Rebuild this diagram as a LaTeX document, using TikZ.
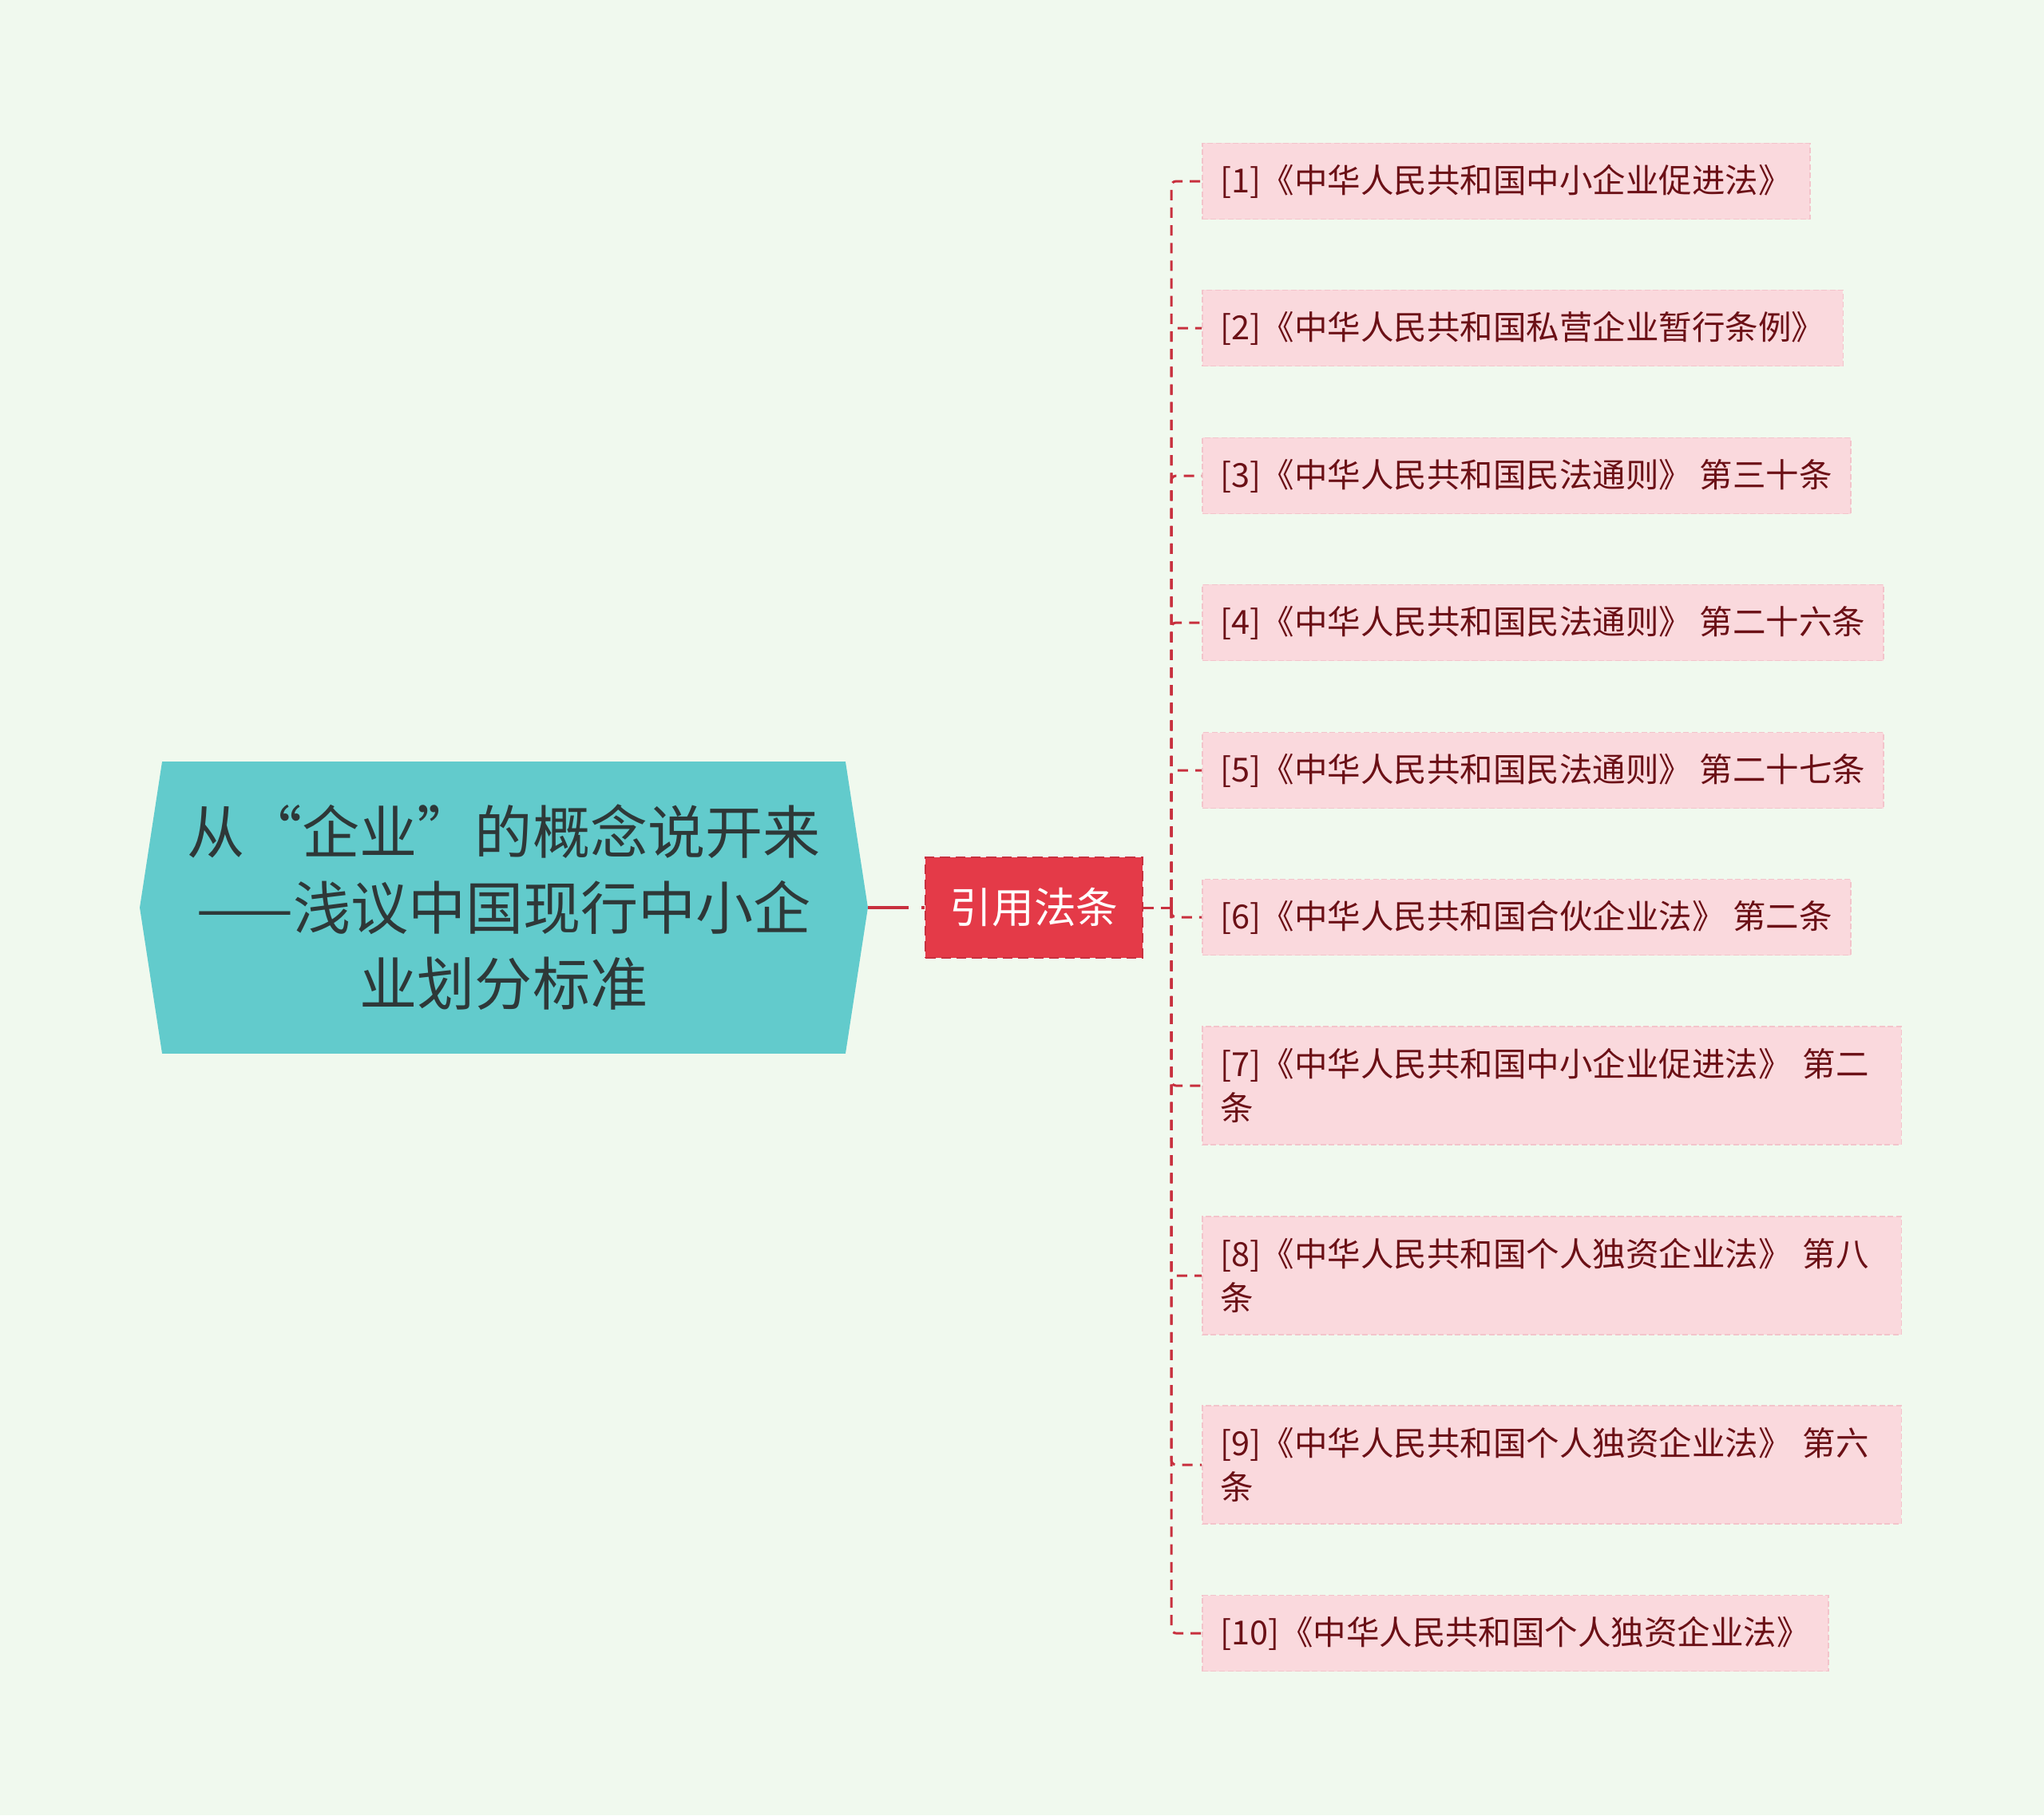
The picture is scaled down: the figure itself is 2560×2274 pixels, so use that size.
\documentclass[tikz,border=0pt]{standalone}
\usepackage{fontspec}
\setmainfont{Noto Sans CJK SC}
\usetikzlibrary{backgrounds}

\definecolor{bgmint}{HTML}{F0F9EE}
\definecolor{rootteal}{HTML}{62CBCC}
\definecolor{rootgray}{HTML}{2E3838}
\definecolor{lawred}{HTML}{E43A48}
\definecolor{lawedge}{HTML}{C8303E}
\definecolor{leafpink}{HTML}{FAD9DD}
\definecolor{leafedge}{HTML}{F3C4CB}
\definecolor{leaftext}{HTML}{6B1016}

\begin{document}
\begin{tikzpicture}[x=0.01cm, y=-0.01cm,
    rootnode/.style={minimum width=9.1cm, minimum height=3.64cm, align=center,
      text=rootgray, font=\fontsize{20.5pt}{27pt}\selectfont},
    lawnode/.style={fill=lawred, draw=lawedge, dash pattern=on 3.5pt off 2pt,
      line width=0.6pt, minimum width=2.71cm, minimum height=1.26cm,
      text=white, font=\fontsize{15pt}{18pt}\selectfont},
    leaf/.style={anchor=west, fill=leafpink, draw=leafedge, dash pattern=on 2pt off 1pt,
      line width=0.5pt, inner xsep=0.23cm, minimum height=0.95cm, align=left,
      text=leaftext, font=\fontsize{11.8pt}{15.4pt}\selectfont},
    twoline/.style={leaf, minimum height=1.48cm, text width=8.29cm},
    link/.style={draw=lawedge, line width=0.85pt, dash pattern=on 3.7pt off 2.6pt}]

  \node[rootnode] (root) at (631,1137) {从“企业”的概念说开来\\——浅议中国现行中小企\\业划分标准};
  \node[lawnode] (law) at (1295,1137) {引用法条};

  \node[leaf] (l1) at (1505,227) {[1]《中华人民共和国中小企业促进法》};
  \node[leaf] (l2) at (1505,411) {[2]《中华人民共和国私营企业暂行条例》};
  \node[leaf] (l3) at (1505,596) {[3]《中华人民共和国民法通则》 第三十条};
  \node[leaf] (l4) at (1505,780) {[4]《中华人民共和国民法通则》 第二十六条};
  \node[leaf] (l5) at (1505,965) {[5]《中华人民共和国民法通则》 第二十七条};
  \node[leaf] (l6) at (1505,1149) {[6]《中华人民共和国合伙企业法》 第二条};
  \node[twoline] (l7) at (1505,1360) {[7]《中华人民共和国中小企业促进法》 第二\\条};
  \node[twoline] (l8) at (1505,1598) {[8]《中华人民共和国个人独资企业法》 第八\\条};
  \node[twoline] (l9) at (1505,1835) {[9]《中华人民共和国个人独资企业法》 第六\\条};
  \node[leaf] (l10) at (1505,2046) {[10]《中华人民共和国个人独资企业法》};

  \coordinate (fork) at (1467,1137);
  \draw[link, line width=1.3pt, dash pattern=on 14.5pt off 4.5pt on 2pt off 1pt] (root.east) -- (law.west);
  \draw[link] (law.east) -- (fork);
  \foreach \i in {1,...,10}
    \draw[link, rounded corners=0.06cm] (fork) |- (l\i.west);

  \begin{scope}[on background layer]
    \fill[bgmint] (0,0) rectangle (2560,2274);
    \fill[rootteal] (root.west) -- ([xshift=0.28cm]root.north west)
      -- ([xshift=-0.28cm]root.north east) -- (root.east)
      -- ([xshift=-0.28cm]root.south east) -- ([xshift=0.28cm]root.south west) -- cycle;
  \end{scope}
\end{tikzpicture}
\end{document}
